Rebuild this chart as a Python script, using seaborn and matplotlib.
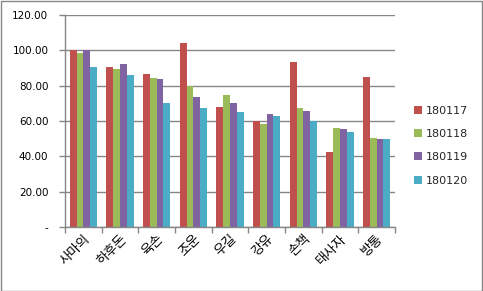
import matplotlib
matplotlib.use("Agg")
import matplotlib.pyplot as plt
import seaborn as sns
import pandas as pd

categories = ["사마의", "하후돈", "육손", "조운", "우길", "강유", "손책", "태사자", "방통"]
s180117 = [100.0, 90.8, 86.8, 104.3, 68.0, 59.8, 93.5, 42.5, 85.0]
s180118 = [98.4, 89.5, 84.5, 79.8, 74.8, 58.5, 67.5, 56.2, 50.5]
s180119 = [100.0, 92.5, 84.0, 73.8, 70.3, 64.0, 65.8, 55.5, 49.9]
s180120 = [90.8, 86.2, 70.2, 67.4, 65.1, 62.8, 59.9, 53.8, 49.9]
series_names = ["180117", "180118", "180119", "180120"]
colors = ["#C0504D", "#9BBB59", "#8064A2", "#4BACC6"]
yticks = [0, 20, 40, 60, 80, 100, 120]
ytick_labels = ["-", "20.00", "40.00", "60.00", "80.00", "100.00", "120.00"]

rows = []
for name, vals in zip(series_names, [s180117, s180118, s180119, s180120]):
    for c, v in zip(categories, vals):
        rows.append({"cat": c, "series": name, "value": v})
df = pd.DataFrame(rows)

sns.set_theme(style="white")
plt.rcParams["font.family"] = ["Noto Sans CJK KR", "DejaVu Sans"]

fig = plt.figure(figsize=(4.83, 2.91), dpi=100)
ax = fig.add_axes([65/483, 1 - 227/291, (395 - 65)/483, (227 - 15)/291])

sns.barplot(data=df, x="cat", y="value", hue="series", order=categories,
            hue_order=series_names, palette=colors, width=0.74,
            saturation=1, ax=ax, errorbar=None, legend=True, linewidth=0, edgecolor="none")

ax.set_ylim(0, 120)
ax.set_xlim(-0.5, len(categories) - 0.5)
ax.set_yticks(yticks)
ax.set_yticklabels(ytick_labels, fontsize=7.5, color="black", family=["DejaVu Sans"])
ax.yaxis.grid(True, color="#868686", linewidth=1)
ax.set_axisbelow(True)
ax.set_xlabel("")
ax.set_ylabel("")

ax.set_xticks([i - 0.5 for i in range(len(categories) + 1)], minor=False)
ax.set_xticklabels([])
ax.set_xticks(range(len(categories)), minor=True)
ax.set_xticklabels(categories, minor=True, rotation=45, ha="right",
                   rotation_mode="anchor", fontsize=9.5, color="black")
ax.tick_params(axis="x", which="minor", length=0, pad=4)
ax.tick_params(axis="x", which="major", length=4, width=1, color="#868686", direction="out", bottom=True)
ax.tick_params(axis="y", length=4, width=1, color="#868686", direction="out", left=True, pad=8)

for s in ["top", "right"]:
    ax.spines[s].set_visible(False)
for s in ["left", "bottom"]:
    ax.spines[s].set_color("#868686")
    ax.spines[s].set_linewidth(1)

leg = ax.legend(loc="center left", bbox_to_anchor=(410/483, 0.5), bbox_transform=fig.transFigure,
                frameon=False, fontsize=8, handlelength=0.7, handleheight=0.7,
                labelspacing=1.2, handletextpad=0.3, borderaxespad=0)
for t in leg.get_texts():
    t.set_family("DejaVu Sans")

fig.patches.append(plt.Rectangle((0.5/483, 0.5/291), 481.5/483, 289.5/291, transform=fig.transFigure,
                                 fill=False, edgecolor="#868686", linewidth=1.0, joinstyle="miter"))

fig.savefig("out.png", dpi=100)
